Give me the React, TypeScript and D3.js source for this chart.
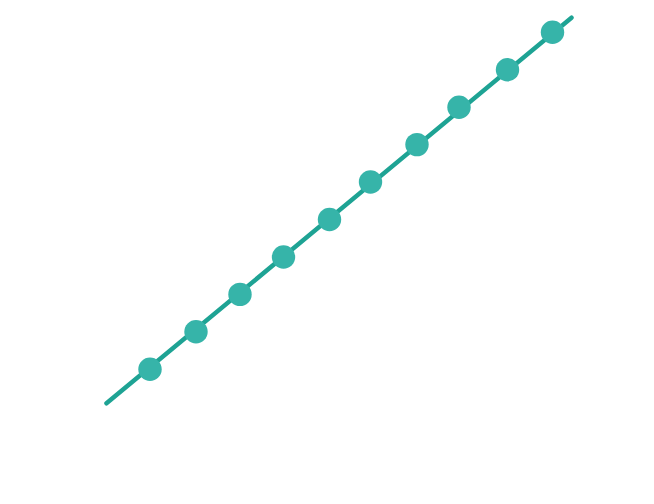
import React from "react";
import * as d3 from "d3";

const pointX = [10, 19.2, 28, 36.7, 45.9, 54.1, 63.4, 71.8, 81.5, 90.5];
const pointY = [1, 2, 3, 4, 5, 6, 7, 8, 9, 10];
const lineX = [1.3, 94.3];
const lineY = [0.09, 10.39];

const W = 654;
const H = 504;

export default function App() {
  const x = d3.scaleLinear().domain([0, 100]).range([100, 600]);
  const y = d3.scaleLinear().domain([0, 10]).range([406.7, 32.3]);
  const lineGen = d3
    .line<number>()
    .x((_, i) => x(lineX[i]))
    .y((d) => y(d));
  const pts = pointX.map((v, i) => ({ x: v, y: pointY[i] }));
  return (
    <svg
      width={W}
      height={H}
      style={{ position: "absolute", left: 0, top: 0, background: "#fff" }}
    >
      <path
        d={lineGen(lineY) || ""}
        fill="none"
        stroke="#1ea394"
        strokeWidth={4.5}
        strokeLinecap="round"
      />
      {pts.map((p, i) => (
        <circle key={i} cx={x(p.x)} cy={y(p.y)} r={11.7} fill="#36b4a9" />
      ))}
    </svg>
  );
}
